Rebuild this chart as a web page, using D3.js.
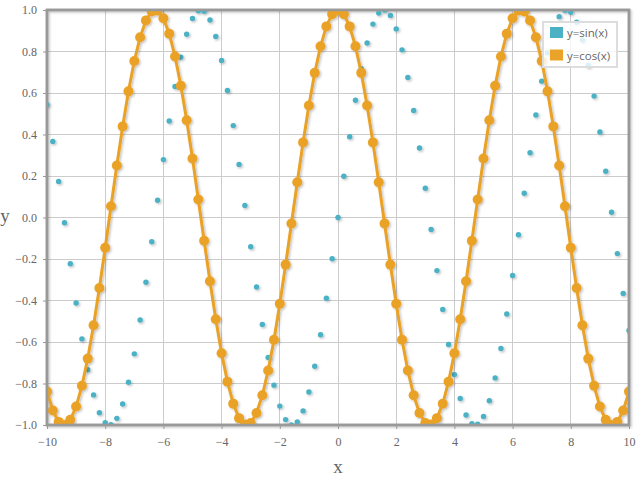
<!DOCTYPE html>
<html>
<head>
<meta charset="utf-8">
<script src="https://cdn.jsdelivr.net/npm/d3@7"></script>
<style>
  html, body { margin: 0; padding: 0; background: #fff; }
  svg { display: block; }
</style>
</head>
<body>
<svg id="chart" width="642" height="490"></svg>
<script>
// ---- data ----
const xValues = [-10,-9.8,-9.6,-9.4,-9.2,-9,-8.8,-8.6,-8.4,-8.2,-8,-7.8,-7.6,-7.4,-7.2,-7,-6.8,-6.6,-6.4,-6.2,
  -6,-5.8,-5.6,-5.4,-5.2,-5,-4.8,-4.6,-4.4,-4.2,-4,-3.8,-3.6,-3.4,-3.2,-3,-2.8,-2.6,-2.4,-2.2,
  -2,-1.8,-1.6,-1.4,-1.2,-1,-0.8,-0.6,-0.4,-0.2,0,0.2,0.4,0.6,0.8,1,1.2,1.4,1.6,1.8,
  2,2.2,2.4,2.6,2.8,3,3.2,3.4,3.6,3.8,4,4.2,4.4,4.6,4.8,5,5.2,5.4,5.6,5.8,
  6,6.2,6.4,6.6,6.8,7,7.2,7.4,7.6,7.8,8,8.2,8.4,8.6,8.8,9,9.2,9.4,9.6,9.8,10];

const sinValues = [0.544,0.366,0.174,-0.025,-0.223,-0.412,-0.585,-0.734,-0.855,-0.941,
  -0.989,-0.999,-0.968,-0.899,-0.794,-0.657,-0.494,-0.312,-0.117,0.083,
  0.279,0.465,0.631,0.773,0.883,0.959,0.996,0.994,0.952,0.872,
  0.757,0.612,0.443,0.256,0.058,-0.141,-0.335,-0.516,-0.675,-0.808,
  -0.909,-0.974,-1.000,-0.985,-0.932,-0.841,-0.717,-0.565,-0.389,-0.199,
  0.000,0.199,0.389,0.565,0.717,0.841,0.932,0.985,1.000,0.974,
  0.909,0.808,0.675,0.516,0.335,0.141,-0.058,-0.256,-0.443,-0.612,
  -0.757,-0.872,-0.952,-0.994,-0.996,-0.959,-0.883,-0.773,-0.631,-0.465,
  -0.279,-0.083,0.117,0.312,0.494,0.657,0.794,0.899,0.968,0.999,
  0.989,0.941,0.855,0.734,0.585,0.412,0.223,0.025,-0.174,-0.366,-0.544];

const cosValues = [-0.839,-0.930,-0.985,-1.000,-0.975,-0.911,-0.811,-0.680,-0.519,-0.340,
  -0.146,0.054,0.251,0.439,0.608,0.754,0.869,0.950,0.993,0.997,
  0.960,0.886,0.776,0.635,0.469,0.284,0.087,-0.112,-0.307,-0.490,
  -0.654,-0.791,-0.897,-0.967,-0.998,-0.990,-0.942,-0.857,-0.737,-0.589,
  -0.416,-0.227,-0.029,0.170,0.362,0.540,0.697,0.825,0.921,0.980,
  1.000,0.980,0.921,0.825,0.697,0.540,0.362,0.170,-0.029,-0.227,
  -0.416,-0.589,-0.737,-0.857,-0.942,-0.990,-0.998,-0.967,-0.897,-0.791,
  -0.654,-0.490,-0.307,-0.112,0.087,0.284,0.469,0.635,0.776,0.886,
  0.960,0.997,0.993,0.950,0.869,0.754,0.608,0.439,0.251,0.054,
  -0.146,-0.340,-0.519,-0.680,-0.811,-0.911,-0.975,-1.000,-0.985,-0.930,-0.839];

const xTicks = [-10,-8,-6,-4,-2,0,2,4,6,8,10];
const yTicks = [-1,-0.8,-0.6,-0.4,-0.2,0,0.2,0.4,0.6,0.8,1];
const seriesNames = ["y=sin(x)", "y=cos(x)"];
const seriesColors = ["#4bb2c5", "#eaa228"];

(function () {
// ---- layout ----
const svg = d3.select("#chart");
const pL = 47, pR = 629, pT = 10, pB = 425;

const x = d3.scaleLinear().domain([-10, 10]).range([pL, pR]);
const y = d3.scaleLinear().domain([-1, 1]).range([pB, pT]);

const defs = svg.append("defs");
const sh = defs.append("filter").attr("id", "shadow")
  .attr("x", "-50%").attr("y", "-50%").attr("width", "200%").attr("height", "200%");
sh.append("feDropShadow").attr("dx", 1.3).attr("dy", 1.3).attr("stdDeviation", 0.9)
  .attr("flood-color", "#000").attr("flood-opacity", 0.25);

defs.append("clipPath").attr("id", "plotclip")
  .append("rect").attr("x", pL).attr("y", pT).attr("width", pR - pL).attr("height", pB - pT);

// grid
const grid = svg.append("g");
grid.selectAll(".gx").data(xTicks.slice(1, -1)).join("line")
  .attr("x1", d => x(d)).attr("x2", d => x(d))
  .attr("y1", pT).attr("y2", pB)
  .attr("stroke", "#cccccc").attr("stroke-width", 1).attr("shape-rendering", "crispEdges");
grid.selectAll(".gy").data(yTicks.slice(1, -1)).join("line")
  .attr("x1", pL).attr("x2", pR)
  .attr("y1", d => y(d)).attr("y2", d => y(d))
  .attr("stroke", "#cccccc").attr("stroke-width", 1).attr("shape-rendering", "crispEdges");

// border (shadow)
svg.append("rect")
  .attr("x", pL).attr("y", pT).attr("width", pR - pL).attr("height", pB - pT)
  .attr("fill", "none").attr("stroke", "#999999").attr("stroke-width", 2.5)
  .attr("filter", "url(#shadow)");

// axes with d3 axis generators for tick labels
const xAxis = d3.axisBottom(x).tickValues(xTicks).tickSize(4).tickPadding(8)
  .tickFormat(d => d3.format("d")(d));
const gx = svg.append("g").attr("transform", `translate(0,${pB})`).call(xAxis);
gx.select(".domain").remove();
gx.selectAll(".tick line").attr("stroke", "#999999");
gx.selectAll("text").attr("fill", "#666666")
  .style("font-family", "'Liberation Serif', 'Times New Roman', serif").style("font-size", "12px");

const yAxis = d3.axisLeft(y).tickValues(yTicks).tickSize(4).tickPadding(6)
  .tickFormat(d3.format(".1f"));
const gy = svg.append("g").attr("transform", `translate(${pL},0)`).call(yAxis);
gy.select(".domain").remove();
gy.selectAll(".tick line").attr("stroke", "#999999");
gy.selectAll("text").attr("fill", "#666666")
  .style("font-family", "'Liberation Serif', 'Times New Roman', serif").style("font-size", "12px");

// axis titles
svg.append("text").attr("x", (pL + pR) / 2).attr("y", 473)
  .attr("text-anchor", "middle").attr("fill", "#666666")
  .style("font-family", "'Liberation Serif', 'Times New Roman', serif").style("font-size", "19px")
  .text("x");
svg.append("text").attr("x", 5).attr("y", 222)
  .attr("text-anchor", "middle").attr("fill", "#666666")
  .style("font-family", "'Liberation Serif', 'Times New Roman', serif").style("font-size", "19px")
  .text("y");

// series
const plot = svg.append("g").attr("clip-path", "url(#plotclip)");
const sinData = xValues.map((v, i) => [v, sinValues[i]]);
const cosData = xValues.map((v, i) => [v, cosValues[i]]);

plot.append("g").attr("filter", "url(#shadow)")
  .selectAll("circle").data(sinData).join("circle")
  .attr("cx", d => x(d[0])).attr("cy", d => y(d[1])).attr("r", 2.7)
  .attr("fill", seriesColors[0]);

const cosG = plot.append("g").attr("filter", "url(#shadow)");
cosG.append("path").datum(cosData)
  .attr("d", d3.line().x(d => x(d[0])).y(d => y(d[1])))
  .attr("fill", "none").attr("stroke", seriesColors[1]).attr("stroke-width", 3)
  .attr("stroke-linejoin", "round");
cosG.selectAll("circle").data(cosData).join("circle")
  .attr("cx", d => x(d[0])).attr("cy", d => y(d[1])).attr("r", 5)
  .attr("fill", seriesColors[1]);

// border on top (no shadow)
svg.append("rect")
  .attr("x", pL).attr("y", pT).attr("width", pR - pL).attr("height", pB - pT)
  .attr("fill", "none").attr("stroke", "#999999").attr("stroke-width", 2.5);

// legend
const lg = svg.append("g");
lg.append("rect").attr("x", 543).attr("y", 22).attr("width", 74).attr("height", 45)
  .attr("fill", "#ffffff").attr("fill-opacity", 0.8)
  .attr("stroke", "#dddddd").attr("stroke-width", 2);
seriesNames.forEach((name, i) => {
  lg.append("rect").attr("x", 550).attr("y", 27 + i * 22.5).attr("width", 13).attr("height", 11)
    .attr("fill", seriesColors[i]);
  lg.append("text").attr("x", 567).attr("y", 37 + i * 22.5)
    .attr("fill", "#666666")
    .style("font-family", "'Open Sans', 'Lato', sans-serif").style("font-size", "11.5px")
    .text(name);
});
})();
</script>
</body>
</html>
